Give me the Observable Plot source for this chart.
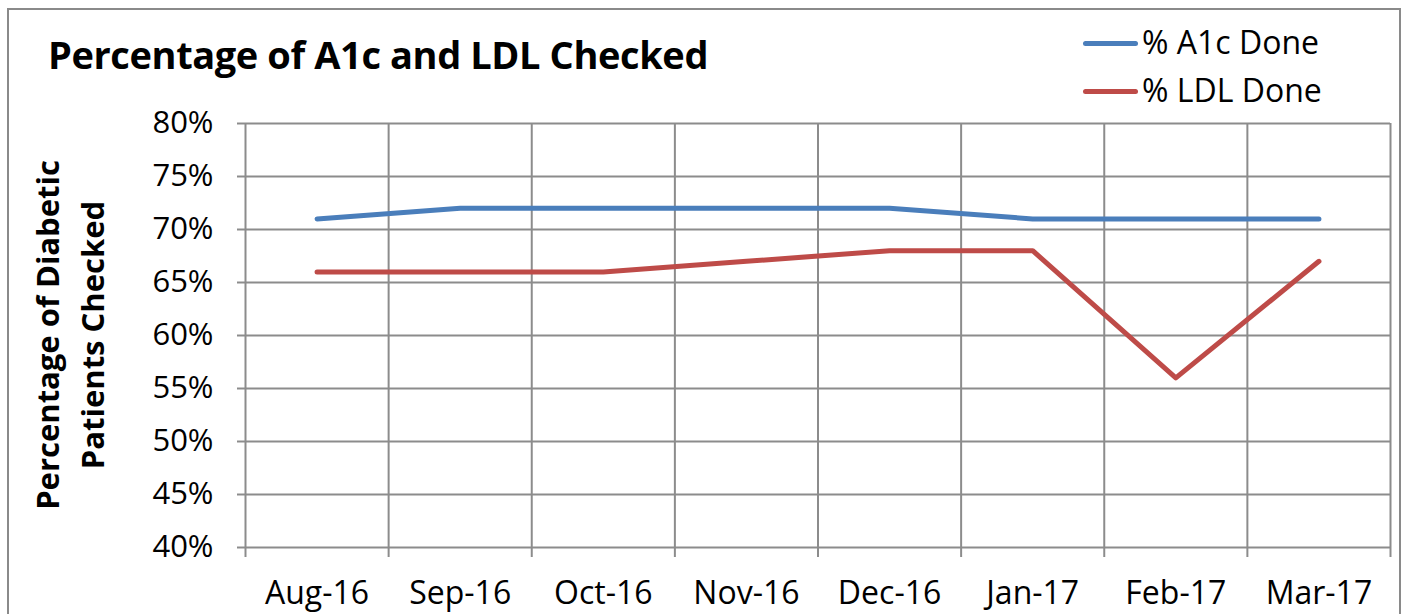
<!DOCTYPE html>
<html><head><meta charset="utf-8">
<script src="https://cdn.jsdelivr.net/npm/d3@7"></script>
<script src="https://cdn.jsdelivr.net/npm/@observablehq/plot@0.6"></script>
<style>
html,body{margin:0;padding:0;background:#fff;}
#wrap{position:relative;width:1411px;height:614px;overflow:hidden;font-family:"Open Sans",sans-serif;}
#border{position:absolute;left:7px;top:8px;width:1394px;height:640px;border:2px solid #8a8a8a;box-sizing:border-box;}
#title{position:absolute;left:48px;top:28px;font-weight:bold;font-size:38px;color:#000;white-space:nowrap;letter-spacing:-0.4px;}
#ylab{position:absolute;left:70px;top:335px;transform:translate(-50%,-50%) rotate(-90deg);font-weight:bold;font-size:31px;line-height:45px;text-align:center;white-space:nowrap;color:#000;}
.leg{position:absolute;left:1083px;font-size:32px;white-space:nowrap;color:#000;}
.leg span.sw{display:inline-block;width:55px;height:5px;border-radius:3px;vertical-align:middle;margin-right:4px;position:relative;top:-2px;}
#chart{position:absolute;left:0;top:0;}
</style></head>
<body><div id="wrap">
<div id="border"></div>
<div id="title">Percentage of A1c and LDL Checked</div>
<div id="ylab">Percentage of Diabetic<br>Patients Checked</div>
<div id="legend"></div>
<div id="chart"></div>
</div>
<script>
const months = ["Aug-16","Sep-16","Oct-16","Nov-16","Dec-16","Jan-17","Feb-17","Mar-17"];
const a1cDone = [71,72,72,72,72,71,71,71];
const ldlDone = [66,66,66,67,68,68,56,67];
const yTicks = [40,45,50,55,60,65,70,75,80];
const seriesNames = ["% A1c Done","% LDL Done"];
const seriesColors = ["#4a7ebb","#be4b48"];

const rows = [];
months.forEach((m,i)=>{
  rows.push({i, month:m, value:a1cDone[i], series:seriesNames[0]});
  rows.push({i, month:m, value:ldlDone[i], series:seriesNames[1]});
});
const bounds = d3.range(months.length+1).map(k=>k-0.5);

const chart = Plot.plot({
  width:1411, height:614,
  marginLeft:245, marginRight:21, marginTop:123, marginBottom:67,
  style:{fontFamily:"Open Sans, sans-serif", fontSize:"31px", color:"#000", background:"transparent"},
  x:{type:"linear", domain:[-0.5, months.length-0.5]},
  y:{domain:[40,80]},
  color:{domain:seriesNames, range:seriesColors},
  marks:[
    Plot.gridY(yTicks,{stroke:"#8c8c8c", strokeOpacity:1, strokeWidth:2}),
    Plot.gridX(bounds,{stroke:"#8c8c8c", strokeOpacity:1, strokeWidth:2}),
    Plot.axisY(yTicks,{tickSize:8, tickPadding:24, tickFormat:d=>d+"%", stroke:"#8c8c8c", strokeWidth:2, label:null, fill:"#000"}),
    Plot.axisX(bounds,{tickSize:10, tickFormat:()=>"", stroke:"#8c8c8c", strokeWidth:2, label:null}),
    Plot.axisX(d3.range(months.length),{tickSize:0, tickPadding:34, fontSize:32, tickFormat:i=>months[i], label:null, fill:"#000"}),
    Plot.line(rows,{x:"i", y:"value", z:"series", stroke:"series", strokeWidth:5, strokeLinecap:"round", strokeLinejoin:"round"})
  ]
});
document.getElementById("chart").appendChild(chart);

const leg = document.getElementById("legend");
seriesNames.forEach((n,k)=>{
  const d = document.createElement("div");
  d.className="leg";
  d.style.top = (20 + k*48) + "px";
  d.innerHTML = `<span class="sw" style="background:${seriesColors[k]}"></span>${n}`;
  leg.appendChild(d);
});
</script>
</body></html>
